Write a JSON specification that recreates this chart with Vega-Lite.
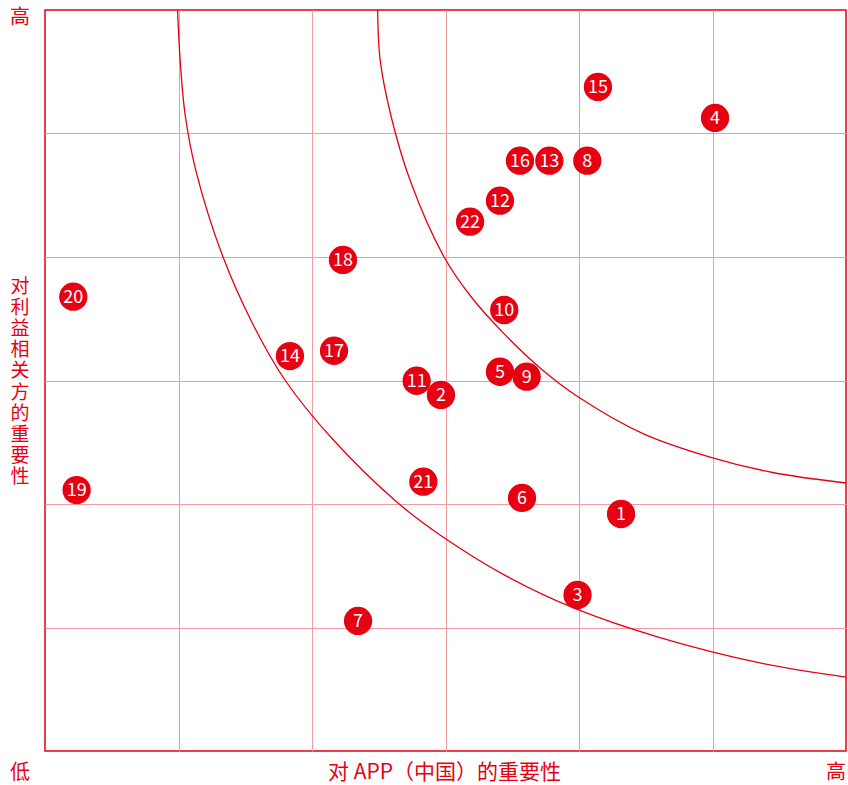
{
  "$schema": "https://vega.github.io/schema/vega-lite/v6.json",
  "width": 801,
  "height": 741,
  "autosize": {"type": "none"},
  "padding": {"left": 45, "top": 10, "right": 2, "bottom": 34},
  "background": "white",
  "config": {
    "font": "Noto Sans CJK SC",
    "view": {"stroke": "#e60012", "strokeWidth": 1.5},
    "axis": {
      "grid": true,
      "gridColor": "#f49aa2",
      "gridOpacity": 1,
      "gridWidth": 1,
      "labels": false,
      "ticks": false,
      "domain": false,
      "title": null
    }
  },
  "datasets": {
    "points": [
      {"id": 1, "x": 4.315, "y": 1.919},
      {"id": 11, "x": 2.784, "y": 2.998},
      {"id": 2, "x": 2.966, "y": 2.883},
      {"id": 3, "x": 3.989, "y": 1.263},
      {"id": 4, "x": 5.019, "y": 5.126},
      {"id": 5, "x": 3.408, "y": 3.071},
      {"id": 6, "x": 3.573, "y": 2.049},
      {"id": 7, "x": 2.345, "y": 1.053},
      {"id": 8, "x": 4.062, "y": 4.780},
      {"id": 9, "x": 3.608, "y": 3.031},
      {"id": 10, "x": 3.440, "y": 3.571},
      {"id": 12, "x": 3.408, "y": 4.456},
      {"id": 16, "x": 3.558, "y": 4.780},
      {"id": 13, "x": 3.778, "y": 4.780},
      {"id": 14, "x": 1.835, "y": 3.198},
      {"id": 15, "x": 4.142, "y": 5.377},
      {"id": 17, "x": 2.165, "y": 3.241},
      {"id": 18, "x": 2.232, "y": 3.976},
      {"id": 19, "x": 0.237, "y": 2.113},
      {"id": 20, "x": 0.212, "y": 3.679},
      {"id": 21, "x": 2.834, "y": 2.181},
      {"id": 22, "x": 3.184, "y": 4.286}
    ],
    "curves": [
      {"curve": "inner", "x": 0.993, "y": 6.000},
      {"curve": "inner", "x": 1.012, "y": 5.600},
      {"curve": "inner", "x": 1.050, "y": 5.150},
      {"curve": "inner", "x": 1.130, "y": 4.700},
      {"curve": "inner", "x": 1.330, "y": 4.010},
      {"curve": "inner", "x": 1.560, "y": 3.450},
      {"curve": "inner", "x": 1.800, "y": 3.000},
      {"curve": "inner", "x": 2.150, "y": 2.530},
      {"curve": "inner", "x": 2.644, "y": 2.008},
      {"curve": "inner", "x": 2.981, "y": 1.733},
      {"curve": "inner", "x": 3.450, "y": 1.420},
      {"curve": "inner", "x": 3.978, "y": 1.150},
      {"curve": "inner", "x": 4.600, "y": 0.920},
      {"curve": "inner", "x": 5.356, "y": 0.713},
      {"curve": "inner", "x": 6.000, "y": 0.599},
      {"curve": "outer", "x": 2.492, "y": 6.000},
      {"curve": "outer", "x": 2.510, "y": 5.600},
      {"curve": "outer", "x": 2.590, "y": 5.150},
      {"curve": "outer", "x": 2.734, "y": 4.623},
      {"curve": "outer", "x": 2.985, "y": 4.008},
      {"curve": "outer", "x": 3.190, "y": 3.680},
      {"curve": "outer", "x": 3.420, "y": 3.400},
      {"curve": "outer", "x": 3.700, "y": 3.110},
      {"curve": "outer", "x": 3.990, "y": 2.870},
      {"curve": "outer", "x": 4.479, "y": 2.570},
      {"curve": "outer", "x": 4.981, "y": 2.380},
      {"curve": "outer", "x": 5.450, "y": 2.255},
      {"curve": "outer", "x": 6.000, "y": 2.170}
    ]
  },
  "layer": [
    {
      "data": {"name": "curves"},
      "mark": {"type": "line", "interpolate": "catmull-rom", "color": "#e60012", "strokeWidth": 1.3},
      "encoding": {
        "x": {"field": "x", "type": "quantitative", "scale": {"domain": [0, 6], "nice": false, "zero": false}, "axis": {"values": [1, 2, 3, 4, 5], "title": null}},
        "y": {"field": "y", "type": "quantitative", "scale": {"domain": [0, 6], "nice": false, "zero": false}, "axis": {"values": [1, 2, 3, 4, 5], "title": null}},
        "detail": {"field": "curve", "type": "nominal"}
      }
    },
    {
      "data": {"name": "points"},
      "mark": {"type": "circle", "size": 800, "color": "#e60012", "opacity": 1},
      "encoding": {
        "x": {"field": "x", "type": "quantitative", "axis": {"values": [1, 2, 3, 4, 5], "title": null}},
        "y": {"field": "y", "type": "quantitative", "axis": {"values": [1, 2, 3, 4, 5], "title": null}}
      }
    },
    {
      "data": {"name": "points"},
      "mark": {"type": "text", "color": "white", "fontSize": 18, "baseline": "middle", "align": "center", "dy": 1},
      "encoding": {
        "x": {"field": "x", "type": "quantitative", "axis": {"values": [1, 2, 3, 4, 5], "title": null}},
        "y": {"field": "y", "type": "quantitative", "axis": {"values": [1, 2, 3, 4, 5], "title": null}},
        "text": {"field": "id", "type": "nominal"}
      }
    },
    {
      "data": {"values": [{}]},
      "mark": {"type": "text", "text": "高", "color": "#e60012", "fontSize": 20, "align": "center", "baseline": "middle", "dx": -25, "dy": 8},
      "encoding": {
        "x": {"datum": 0, "type": "quantitative"},
        "y": {"datum": 6, "type": "quantitative"}
      }
    },
    {
      "data": {"values": [{}]},
      "mark": {"type": "text", "text": "低", "color": "#e60012", "fontSize": 20, "align": "center", "baseline": "middle", "dx": -25, "dy": 22},
      "encoding": {
        "x": {"datum": 0, "type": "quantitative"},
        "y": {"datum": 0, "type": "quantitative"}
      }
    },
    {
      "data": {"values": [{}]},
      "mark": {"type": "text", "text": "高", "color": "#e60012", "fontSize": 20, "align": "center", "baseline": "middle", "dx": -10, "dy": 22},
      "encoding": {
        "x": {"datum": 6, "type": "quantitative"},
        "y": {"datum": 0, "type": "quantitative"}
      }
    },
    {
      "data": {"values": [{}]},
      "mark": {"type": "text", "text": "对 APP（中国）的重要性", "color": "#e60012", "fontSize": 21, "align": "center", "baseline": "middle", "dx": -1, "dy": 22},
      "encoding": {
        "x": {"datum": 3, "type": "quantitative"},
        "y": {"datum": 0, "type": "quantitative"}
      }
    },
    {
      "data": {"values": [{}]},
      "mark": {"type": "text", "text": ["对", "利", "益", "相", "关", "方", "的", "重", "要", "性"], "lineHeight": 21.2, "color": "#e60012", "fontSize": 19, "align": "center", "baseline": "middle", "dx": -25, "dy": -94},
      "encoding": {
        "x": {"datum": 0, "type": "quantitative"},
        "y": {"datum": 3, "type": "quantitative"}
      }
    }
  ]
}
